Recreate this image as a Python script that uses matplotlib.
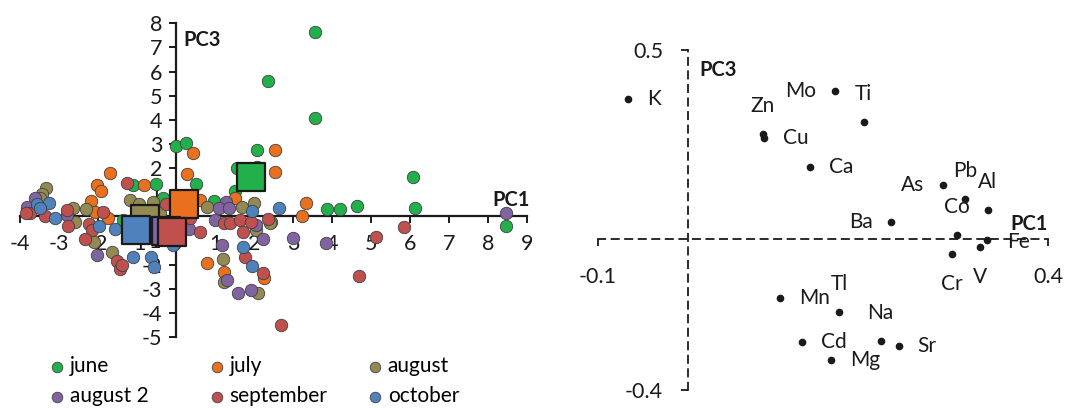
import matplotlib
matplotlib.use("Agg")
import matplotlib.pyplot as plt

plt.rcParams['font.family'] = ['Lato', 'DejaVu Sans']
plt.rcParams['axes.unicode_minus'] = False

# --- left panel: PCA scores (PC1 vs PC3) ---
months = ['june', 'july', 'august', 'august 2', 'september', 'october']
colors = ['#22b04b', '#e8701e', '#938953', '#8064a2', '#c0504d', '#4f81bd']

june_x = [3.56, 2.36, 3.56, 0.0, 0.26, 0.51, 2.08, 1.56, 1.51, 0.97, 3.87, 4.21, 4.64, 6.08, 6.13, 8.46, -0.51, -0.33, -1.10, -1.36]
june_y = [7.65, 5.59, 4.09, 2.93, 3.06, 1.35, 2.77, 2.02, 1.07, 0.65, 0.32, 0.32, 0.44, 1.65, 0.36, -0.39, 1.35, 0.78, 1.31, -0.14]

july_x = [-1.69, -2.03, -1.92, -2.18, -0.82, -2.08, -1.74, 0.44, 0.28, 0.62, 2.08, 2.54, 2.54, 1.51, 3.33, 3.23, 0.79, 1.23, 2.26]
july_y = [1.81, 1.28, 1.03, 0.65, 1.31, 0.19, -0.05, 2.64, 1.77, 0.69, 2.06, 2.77, 1.85, 0.77, 0.57, 0.03, -1.92, -2.29, -2.54]

aug_x = [-3.33, -3.44, -3.5, -2.64, -2.31, -2.59, -1.18, -0.95, -0.59, -2.10, -1.64, 0.79, 1.69, 2.0, 2.44, -0.41, 2.05, 2.41, 1.21, 1.23, 2.10]
aug_y = [1.18, 0.94, 0.75, 0.36, 0.32, -0.22, 0.69, 0.52, 0.61, -1.05, -1.46, 0.40, 0.40, 0.57, -0.22, 0.15, -0.55, -0.26, -1.76, -2.71, -3.18]

aug2_x = [-3.82, -3.62, -2.79, -2.03, 1.28, 1.10, 1.36, 1.0, 0.33, 2.05, 2.23, 1.18, 3.0, 3.85, 8.46, 1.31, 1.59, 1.92, -0.45]
aug2_y = [0.4, 0.77, 0.07, -1.6, 0.61, 0.36, 0.36, -0.14, -0.51, -0.34, -0.93, -1.17, -0.89, -1.10, 0.15, -2.63, -3.18, -3.05, -0.4]

sep_x = [-3.74, -3.85, -3.36, -2.79, -2.77, -1.26, -1.87, -2.23, -2.15, -2.33, -1.51, -1.44, -0.26, 0.36, 0.62, 1.23, 1.38, 1.64, 1.72,
         1.77, 2.36, 2.23, 1.92, 5.13, 5.85, 4.69, 2.69, -1.38]
sep_y = [0.15, 0.15, 0.0, 0.28, -0.39, 1.39, 0.2, -0.3, -0.55, -0.93, -1.87, -2.17, 0.52, -0.05, -0.63, -0.26, -0.26, -0.14, -0.63,
         -1.67, -0.1, -2.34, -0.22, -0.85, -0.43, -2.46, -4.49, -2.0]

oct_x = [-3.56, -3.26, -3.49, -3.1, -1.97, -1.56, -1.10, -0.64, -0.56, -0.08, 1.95, 2.64, 1.72, 1.95, 0.05]
oct_y = [0.52, 0.57, 0.35, -0.05, -0.39, -0.51, -1.67, -1.67, -2.09, -1.17, 0.24, 0.36, -1.26, -2.05, -0.07]

# monthly centroids (big squares)
mean_x = [1.92, 0.21, -0.8, -0.25, -0.1, -1.03]
mean_y = [1.61, 0.52, -0.1, -0.6, -0.63, -0.55]

xs = [june_x, july_x, aug_x, aug2_x, sep_x, oct_x]
ys = [june_y, july_y, aug_y, aug2_y, sep_y, oct_y]

# --- right panel: loadings ---
elements = ['K', 'Mo', 'Ti', 'Zn', 'Cu', 'Ca', 'As', 'Pb', 'Al', 'Co', 'Ba', 'Fe', 'V', 'Cr',
            'Mn', 'Tl', 'Na', 'Cd', 'Mg', 'Sr']
load_x = [-0.067, 0.163, 0.195, 0.083, 0.084, 0.136, 0.283, 0.308, 0.333, 0.299, 0.226, 0.332, 0.324, 0.293,
          0.102, 0.168, 0.214, 0.127, 0.159, 0.234]
load_y = [0.370, 0.392, 0.309, 0.278, 0.268, 0.189, 0.142, 0.105, 0.076, 0.009, 0.046, -0.003, -0.022, -0.039,
          -0.156, -0.193, -0.269, -0.274, -0.320, -0.283]

# label placement (offset in px, alignment)
R, L, U, D = (19, 0, 'left'), (-19, 0, 'right'), (0, 28, 'center'), (0, -30, 'center')
label_pos = {'K': R, 'Mo': L, 'Ti': U, 'Zn': U, 'Cu': R, 'Ca': R, 'As': L, 'Pb': U, 'Al': U, 'Co': U,
             'Ba': L, 'Fe': (20, -2, 'left'), 'V': D, 'Cr': D, 'Mn': R, 'Tl': U, 'Na': U, 'Cd': R, 'Mg': R, 'Sr': R}

W, H = 1066, 408
fig = plt.figure(figsize=(W / 100, H / 100), dpi=100)

# ---------------- left ----------------
ax = fig.add_axes([20 / W, (H - 337) / H, 507 / W, 313.7 / H])
handles = []
for i in range(6):
    h = ax.scatter(xs[i], ys[i], s=80, c=colors[i], edgecolors='#404040', linewidths=0.6, zorder=3 + i * 0.01,
                   clip_on=False, label=months[i])
    handles.append(h)
for i in [0, 1, 2, 5, 3, 4]:
    ax.scatter(mean_x[i], mean_y[i], s=420, marker='s', c=colors[i], edgecolors='#1a1a1a', linewidths=1.6,
               zorder=5, clip_on=False)

ax.set_xlim(-4, 9)
ax.set_ylim(-5, 8)
for sp in ['top', 'right']:
    ax.spines[sp].set_visible(False)
ax.spines['left'].set_position(('data', 0))
ax.spines['bottom'].set_position(('data', 0))
for sp in ['left', 'bottom']:
    ax.spines[sp].set_linewidth(1.6)
    ax.spines[sp].set_color('#1a1a1a')
    ax.spines[sp].set_zorder(2)
ax.set_xticks(range(-4, 10))
ax.set_yticks(range(-5, 9))
ax.tick_params(axis='x', direction='out', length=5, width=1.4, pad=8, labelsize=15.5, colors='#1a1a1a')
ax.tick_params(axis='y', direction='out', length=5, width=1.4, pad=5, labelsize=15.5, colors='#1a1a1a')
for t in ax.get_xticklabels() + ax.get_yticklabels():
    t.set_zorder(1)
ax.text(0.18, 7.29, 'PC3', fontsize=14.5, fontweight='bold', ha='left', va='center', color='#1a1a1a')
ax.text(9.07, 0.69, 'PC1', fontsize=14.5, fontweight='bold', ha='right', va='center', color='#1a1a1a')

# legend: three columns, rows june/july/august and august 2/september/october
col_left = [52, 212, 370]
for c in range(3):
    leg = fig.legend(handles=[handles[c], handles[c + 3]], labels=[months[c], months[c + 3]], loc='upper left',
                     bbox_to_anchor=(col_left[c] / W, (H - 356) / H), frameon=False, fontsize=15,
                     handlelength=0.5, handletextpad=0.35, labelspacing=0.5, markerscale=0.85,
                     borderaxespad=0, borderpad=0)

# ---------------- right ----------------
ax2 = fig.add_axes([598 / W, (H - 390) / H, 450 / W, 340 / H])
ax2.plot(load_x, load_y, 'o', color='#1a1a1a', markersize=4.5, zorder=3)
for name, x, y in zip(elements, load_x, load_y):
    dx, dy, ha = label_pos[name]
    ax2.annotate(name, (x, y), xytext=(dx * 0.72, dy * 0.72), textcoords='offset points', ha=ha, va='center',
                 fontsize=15, color='#1a1a1a')
ax2.set_xlim(-0.1, 0.4)
ax2.set_ylim(-0.4, 0.5)
for sp in ['top', 'right']:
    ax2.spines[sp].set_visible(False)
ax2.spines['left'].set_position(('data', 0))
ax2.spines['bottom'].set_position(('data', 0))
for sp in ['left', 'bottom']:
    ax2.spines[sp].set_linestyle((0, (4, 3.5)))
    ax2.spines[sp].set_linewidth(1.3)
    ax2.spines[sp].set_color('#1a1a1a')
ax2.set_xticks([-0.1, 0.4])
ax2.set_yticks([-0.4, 0.5])
ax2.set_xticklabels(['-0.1', '0.4'])
ax2.set_yticklabels(['-0.4', '0.5'])
ax2.tick_params(axis='x', direction='out', length=5, width=1.3, pad=15, labelsize=15.5, colors='#1a1a1a')
ax2.tick_params(axis='y', direction='out', length=5, width=1.3, pad=13, labelsize=15.5, colors='#1a1a1a')
ax2.text(0.013, 0.447, 'PC3', fontsize=14.5, fontweight='bold', ha='left', va='center', color='#1a1a1a')
ax2.text(0.4, 0.04, 'PC1', fontsize=14.5, fontweight='bold', ha='right', va='center', color='#1a1a1a')

fig.savefig('out.png', dpi=100)
